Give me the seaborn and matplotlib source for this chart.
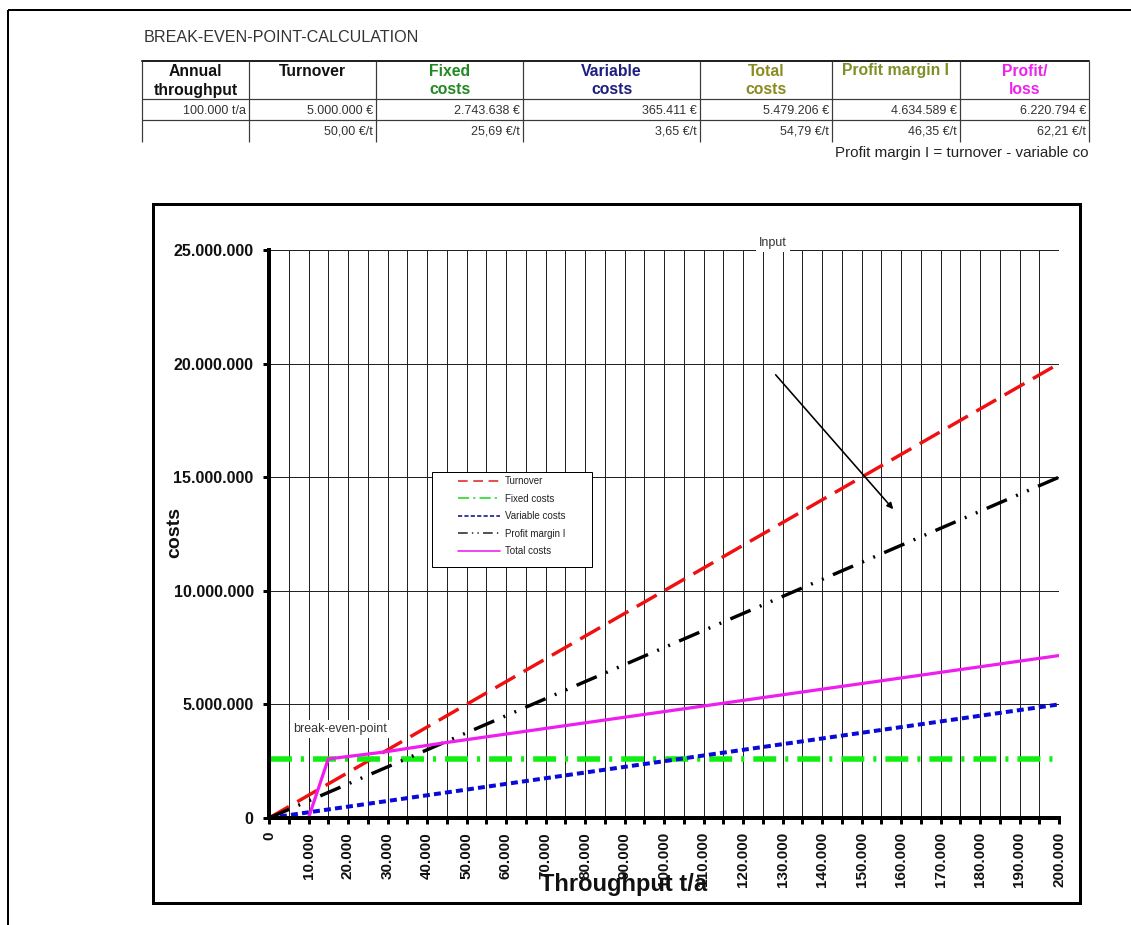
import matplotlib
matplotlib.use("Agg")
import matplotlib.pyplot as plt
import seaborn as sns
import pandas as pd
from matplotlib.lines import Line2D
from matplotlib.patches import Rectangle
from matplotlib.transforms import Bbox, TransformedBbox
from matplotlib.ticker import FuncFormatter

# ---- break-even chart data (throughput in t/a, amounts in €) ----
throughput = [0, 10000, 15000, 29000, 44000, 200000]
turnover = [0, 1_000_000, 1_500_000, 2_900_000, 4_400_000, 20_000_000]
fixed_costs = [2_600_000, 2_600_000, 2_600_000, 2_600_000, 2_600_000, 2_600_000]
variable_costs = [0, 250_000, 375_000, 725_000, 1_100_000, 5_000_000]
profit_margin = [0, 750_000, 1_125_000, 2_175_000, 3_300_000, 15_000_000]
total_costs = [0, 0, 2_600_000, 2_900_000, 3_300_000, 7_150_000]
series_names = ["Turnover", "Fixed costs", "Variable costs", "Profit margin I", "Total costs"]

x_tick_values = list(range(0, 200001, 5000))
y_tick_values = [0, 5_000_000, 10_000_000, 15_000_000, 20_000_000, 25_000_000]

# ---- summary table ----
table_title = "BREAK-EVEN-POINT-CALCULATION"
table_headers = [("Annual", "throughput"), ("Turnover", ""), ("Fixed", "costs"),
                 ("Variable", "costs"), ("Total", "costs"), ("Profit margin I", ""),
                 ("Profit/", "loss")]
table_row_totals = ["100.000 t/a", "5.000.000 €", "2.743.638 €", "365.411 €",
                    "5.479.206 €", "4.634.589 €", "6.220.794 €"]
table_row_per_ton = ["", "50,00 €/t", "25,69 €/t", "3,65 €/t", "54,79 €/t",
                     "46,35 €/t", "62,21 €/t"]
table_note = "Profit margin I = turnover - variable costs"

sns.set_theme(style="white")
plt.rcParams["font.family"] = ["Liberation Sans", "DejaVu Sans"]
plt.rcParams["lines.scale_dashes"] = False

W, H = 1131, 925
fig = plt.figure(figsize=(W / 100, H / 100), dpi=100)
fig.patch.set_facecolor("white")

# page layer in pixel coordinates
page = fig.add_axes([0, 0, 1, 1], zorder=0)
page.set_xlim(0, W)
page.set_ylim(H, 0)
page.axis("off")

PX = 0.72  # points per pixel

# page border
page.plot([8, W], [10, 10], color="black", lw=2 * PX, solid_capstyle="butt")
page.plot([8, 8], [10, H], color="black", lw=2 * PX, solid_capstyle="butt")

# title and table
page.text(144, 38, table_title, ha="left", va="center", fontsize=11.6, color="#333333")
cols = [142, 249, 376, 523, 700, 832, 960, 1089]
t_top, t_hdr, t_row1, t_bot = 61, 99, 120, 142
line_kw = dict(color="#3a3a3a", lw=1.2 * PX, solid_capstyle="butt")
page.plot([cols[0], cols[-1]], [t_top, t_top], color="#222222", lw=2 * PX)
page.plot([cols[0], cols[-1]], [t_hdr, t_hdr], **line_kw)
page.plot([cols[0], cols[-1]], [t_row1, t_row1], **line_kw)
for c in cols:
    page.plot([c, c], [t_top, t_bot], **line_kw)

header_colors = ["#111111", "#111111", "#238a23", "#1e1e80", "#8a8a1e", "#7f8f25", "#ee22ee"]
for i, (l1, l2) in enumerate(table_headers):
    cx = (cols[i] + cols[i + 1]) / 2
    page.text(cx, 71, l1, ha="center", va="center", fontsize=11.3,
              fontweight="bold", color=header_colors[i])
    if l2:
        page.text(cx, 90, l2, ha="center", va="center", fontsize=11.3,
                  fontweight="bold", color=header_colors[i])
for i in range(len(cols) - 1):
    page.text(cols[i + 1] - 3, 111, table_row_totals[i], ha="right", va="center",
              fontsize=9, color="#333333")
    page.text(cols[i + 1] - 3, 131, table_row_per_ton[i], ha="right", va="center",
              fontsize=9, color="#333333")
note = page.text(835, 153, table_note, ha="left", va="center", fontsize=10.9,
                 color="#222222", clip_on=True)
note.set_clip_path(None)
note.set_clip_box(TransformedBbox(Bbox.from_extents(0, 0, 1089, H), page.transData))

# chart frame
page.add_patch(Rectangle((153, 204), 927, 699, facecolor="white",
                         edgecolor="black", lw=3 * PX))

# ---- chart ----
ax = fig.add_axes([269 / W, 1 - 818 / H, 790 / W, 568 / H], zorder=1)
ax.patch.set_alpha(0)

df = pd.DataFrame({
    "throughput": throughput,
    "Turnover": turnover,
    "Fixed costs": fixed_costs,
    "Variable costs": variable_costs,
    "Profit margin I": profit_margin,
    "Total costs": total_costs,
})

styles = {
    "Turnover": dict(color="#f01010", lw=3.4 * PX, ls=(0, (16.5, 7.0))),
    "Fixed costs": dict(color="#11ee11", lw=5.5 * PX, ls=(0, (16.5, 6.5, 2.2, 6.5))),
    "Variable costs": dict(color="#0a0ad8", lw=4 * PX, ls=(0, (5.0, 3.0))),
    "Profit margin I": dict(color="black", lw=3.4 * PX, ls=(0, (15.8, 7.2, 1.4, 7.2, 1.4, 7.2))),
    "Total costs": dict(color="#ee1eee", lw=3.2 * PX, ls="-"),
}
for name in series_names:
    st = styles[name]
    sns.lineplot(data=df, x="throughput", y=name, ax=ax, color=st["color"],
                 linewidth=st["lw"], linestyle=st["ls"], zorder=2)

ax.set_xlim(0, 200000)
ax.set_ylim(0, 25_000_000)
ax.set_xticks(x_tick_values)
ax.set_xticklabels([f"{v:,}".replace(",", ".") if v % 10000 == 0 else "" for v in x_tick_values],
                   rotation=90, fontsize=11, fontweight="bold", color="#111111")
ax.set_yticks(y_tick_values)
ax.yaxis.set_major_formatter(FuncFormatter(lambda v, p: f"{v:,.0f}".replace(",", ".")))
for lab in ax.get_yticklabels():
    lab.set_fontweight("bold")
    lab.set_fontsize(11.5)
    lab.set_color("#111111")

ax.grid(True, color="#222222", lw=1 * PX)
ax.set_axisbelow(True)
for s in ["top", "right"]:
    ax.spines[s].set_visible(False)
for s in ["left", "bottom"]:
    ax.spines[s].set_linewidth(4 * PX)
    ax.spines[s].set_color("black")
ax.tick_params(axis="both", which="major", bottom=True, left=True, direction="out",
               length=4, width=3 * PX, color="black")
ax.tick_params(axis="x", pad=6)
ax.tick_params(axis="y", pad=7)

ax.set_xlabel("Throughput t/a", fontsize=17, fontweight="bold", color="#111111")
ax.xaxis.set_label_coords(0.449, -0.096)
ax.set_ylabel("costs", fontsize=14, fontweight="bold", color="#111111")
ax.yaxis.set_label_coords(-0.108, 0.502)

# annotations
ax.text(127600, 25_300_000, "Input", ha="center", va="center", fontsize=9,
        color="#333333", clip_on=False,
        bbox=dict(facecolor="white", edgecolor="none", pad=2))
ax.annotate("", xy=(158500, 13_500_000), xytext=(127800, 19_600_000),
            arrowprops=dict(arrowstyle="-|>", lw=1.6 * PX, color="black", mutation_scale=9))
ax.text(17970, 3_920_000, "break-even-point", ha="center", va="center", fontsize=9,
        color="#333333", zorder=3,
        bbox=dict(facecolor="white", edgecolor="none", pad=2))

# legend
ax.add_patch(Rectangle((432 / W, 1 - 567 / H), 160 / W, 95 / H, transform=fig.transFigure,
                       facecolor="white", edgecolor="black", lw=1 * PX, zorder=4,
                       clip_on=False))
legend_handles = [
    Line2D([], [], color="#e03030", lw=1.2, ls=(0, (7, 4))),
    Line2D([], [], color="#22dd22", lw=1.2, ls=(0, (8, 3, 1.5, 3))),
    Line2D([], [], color="#1a1a90", lw=1.2, ls=(0, (3, 1.6))),
    Line2D([], [], color="#333333", lw=1.2, ls=(0, (7, 3, 1, 3, 1, 3))),
    Line2D([], [], color="#ee22ee", lw=1.2, ls="-"),
]
leg = ax.legend(legend_handles, series_names, loc="upper left",
                bbox_to_anchor=(458 / W, 1 - 476 / H), bbox_transform=fig.transFigure,
                frameon=False, fontsize=7, handlelength=4.3, handletextpad=0.5,
                labelspacing=0.78, borderpad=0, borderaxespad=0)
leg.set_zorder(5)
for t in leg.get_texts():
    t.set_color("#222222")

fig.savefig("out.png", dpi=100)
